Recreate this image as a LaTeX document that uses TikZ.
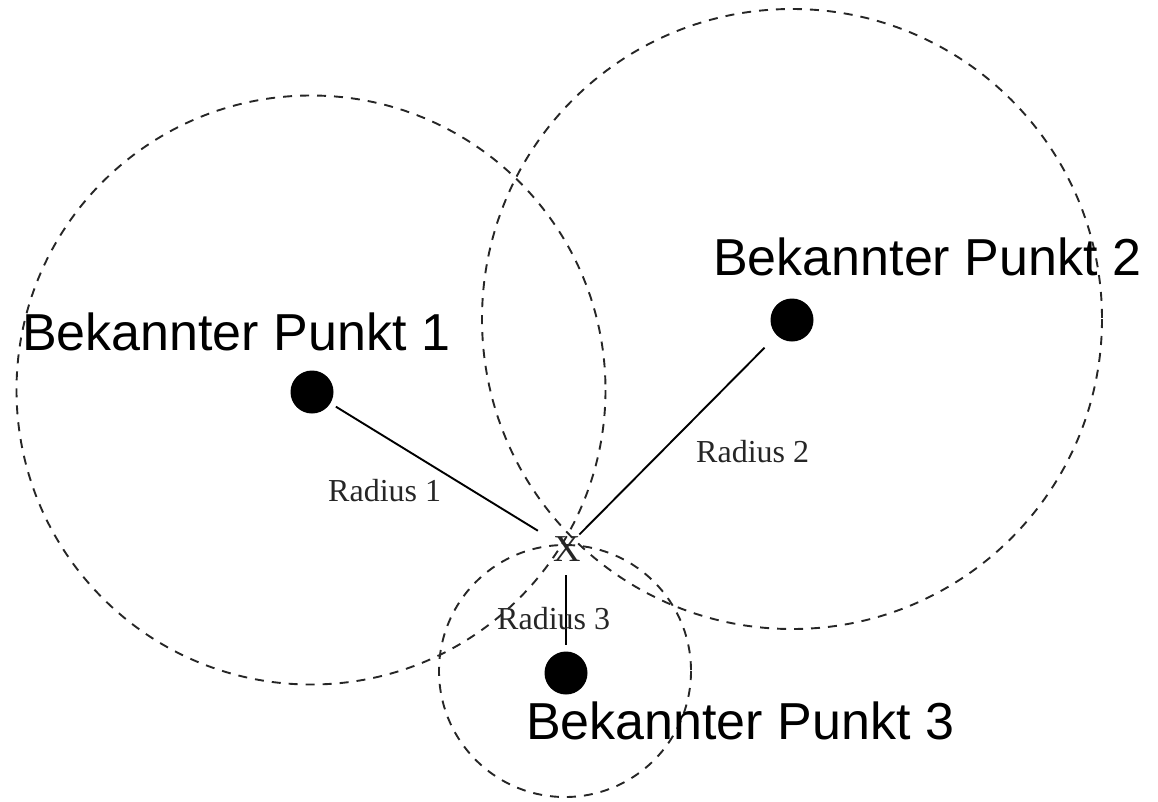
\documentclass[tikz,border=0pt]{standalone}
\usepackage{fontspec}
\setmainfont{Liberation Serif}
\newfontfamily\labelfont{Liberation Sans}
\begin{document}
\begin{tikzpicture}[x=1pt,y=-1pt,
  rangecircle/.style={draw=black!85, line width=1.9pt, dash pattern=on 9pt off 8pt},
  knownpoint/.style={circle, fill=black, inner sep=0pt, minimum size=43pt},
  radline/.style={draw=black, line width=1.9pt},
  biglabel/.style={font=\labelfont\fontsize{52}{60}\selectfont, inner sep=0pt, anchor=base west},
  smalllabel/.style={font=\fontsize{32}{38}\selectfont, text=black!85, inner sep=0pt, anchor=base west}]
\useasboundingbox (0,0) rectangle (1158,801);

% range circles around the known points
\draw[rangecircle] (311,390) circle[radius=294.5];
\draw[rangecircle] (792,319) circle[radius=310];
\draw[rangecircle] (565,671) circle[radius=126];

% known points
\node[knownpoint] (p1) at (312,392) {};
\node[knownpoint] (p2) at (792,320) {};
\node[knownpoint] (p3) at (566,673) {};

% unknown position
\node[font=\fontsize{38}{44}\selectfont, text=black!85, inner sep=0pt, anchor=base] (x) at (567,561) {X};
\coordinate (xc) at (566,548);

% radii
\draw[radline, shorten <=28pt, shorten >=33pt] (p1.center) -- (xc);
\draw[radline, shorten <=39pt, shorten >=19pt] (p2.center) -- (xc);
\draw[radline, shorten <=27pt, shorten >=28pt] (xc) -- (p3.center);

% labels
\node[biglabel] (l1) at (22,350) {Bekannter Punkt 1};
\node[biglabel] (l2) at (713,275) {Bekannter Punkt 2};
\node[biglabel] (l3) at (526,739) {Bekannter Punkt 3};
\node[smalllabel] (r1) at (328,501) {Radius 1};
\node[smalllabel] (r2) at (696,462) {Radius 2};
\node[smalllabel] (r3) at (497,629) {Radius 3};
\end{tikzpicture}
\end{document}
